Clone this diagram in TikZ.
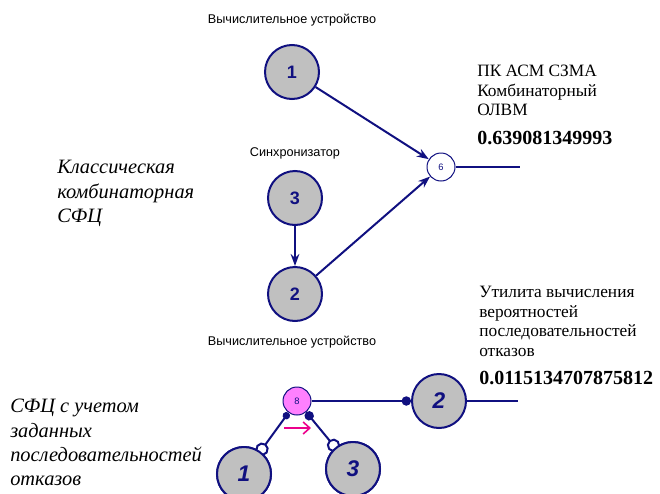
\documentclass[tikz,border=0pt]{standalone}
\usepackage{fontspec}
\setmainfont{Liberation Serif}
\setsansfont{Liberation Sans}
\usetikzlibrary{arrows.meta}

\definecolor{navy}{RGB}{16,16,128}
\definecolor{unitgray}{RGB}{192,192,192}
\definecolor{gatepink}{RGB}{255,128,255}

\tikzset{
  unit/.style={circle, draw=navy, fill=unitgray, line width=1.5pt, minimum size=40.5pt, inner sep=0pt, text=navy, font=\sffamily\bfseries\fontsize{13.5}{13.5}\selectfont},
  unitit/.style={unit, font=\sffamily\bfseries\itshape\fontsize{17}{17}\selectfont},
  gate/.style={circle, draw=navy, fill=white, line width=0.75pt, minimum size=21pt, inner sep=0pt, text=navy, font=\sffamily\fontsize{7}{7}\selectfont},
  link/.style={draw=navy, line width=1.5pt},
  flow/.style={link, -{Stealth[length=9pt,width=6.5pt]}},
  devname/.style={font=\sffamily\fontsize{9.5}{11}\selectfont},
  note/.style={anchor=north west, inner sep=0pt, align=left, font=\fontsize{13}{14.7}\selectfont},
  prob/.style={anchor=west, inner sep=0pt, font=\bfseries\fontsize{15}{16}\selectfont},
  title/.style={anchor=north west, inner sep=0pt, align=left, font=\itshape\fontsize{15.3}{18.3}\selectfont}
}

\begin{document}
\begin{tikzpicture}[x=0.75pt,y=0.75pt,yscale=-1,xscale=1]
\useasboundingbox (0,0) rectangle (660,493);

%Classic combinatorial scheme
\node[unit] (u1) at (292,72) {1};
\node[unit] (u3) at (295,198) {3};
\node[unit] (u2) at (295,294) {2};
\node[gate] (g6) at (441,167) {6};
\coordinate (out6) at (520,167);

\draw[flow] (u1) -- (g6);
\draw[flow] (u2) -- (g6);
\draw[flow] (u3) -- (u2);
\draw[link] (g6) -- (out6);

%Scheme with given failure sequences
\node[gate, fill=gatepink] (g8) at (297,401) {8};
\node[unitit] (v2) at (439,401) {2};
\node[unitit] (v1) at (244,474) {1};
\node[unitit] (v3) at (353,469) {3};
\coordinate (out2) at (518,401);

\draw[link, -{Circle[length=7pt]}] (g8) -- (v2);
\draw[link] (v2) -- (out2);
\draw[link, {Circle[length=5.5pt]}-{Circle[open,length=10pt,fill=white]}, shorten >=-3pt] (g8) -- (v1);
\draw[link, {Circle[length=7pt]}-{Circle[open,length=10pt,fill=white]}, shorten >=-3pt] (g8) -- (v3);
\node[unitit] at (v1) {1};
\node[unitit] at (v3) {3};
\coordinate (seqa) at (284,428);
\coordinate (seqb) at (311,428);
\draw[magenta, line width=1.2pt, -{Straight Barb[length=5pt,width=9pt]}] (seqa) -- (seqb);

% Text Node
\node[devname] (d1) at (292,20) {Вычислительное устройство};
% Text Node
\node[devname] (d3) at (295,153) {Синхронизатор};
% Text Node
\node[devname] (d2) at (292,342) {Вычислительное устройство};
% Text Node
\node[note] (t6) at (477,65) {ПК АСМ СЗМА\\Комбинаторный\\ОЛВМ};
% Text Node
\node[prob] (p6) at (477,138) {0.639081349993};
% Text Node
\node[note] (t8) at (479,286) {Утилита вычисления\\вероятностей\\последовательностей\\отказов};
% Text Node
\node[prob] (p8) at (479,378) {0.0115134707875812};
% Text Node
\node[title] (c1) at (57,160) {Классическая\\комбинаторная\\СФЦ};
% Text Node
\node[title] (c2) at (10,399) {СФЦ с учетом\\заданных\\последовательностей\\отказов};

\end{tikzpicture}
\end{document}
